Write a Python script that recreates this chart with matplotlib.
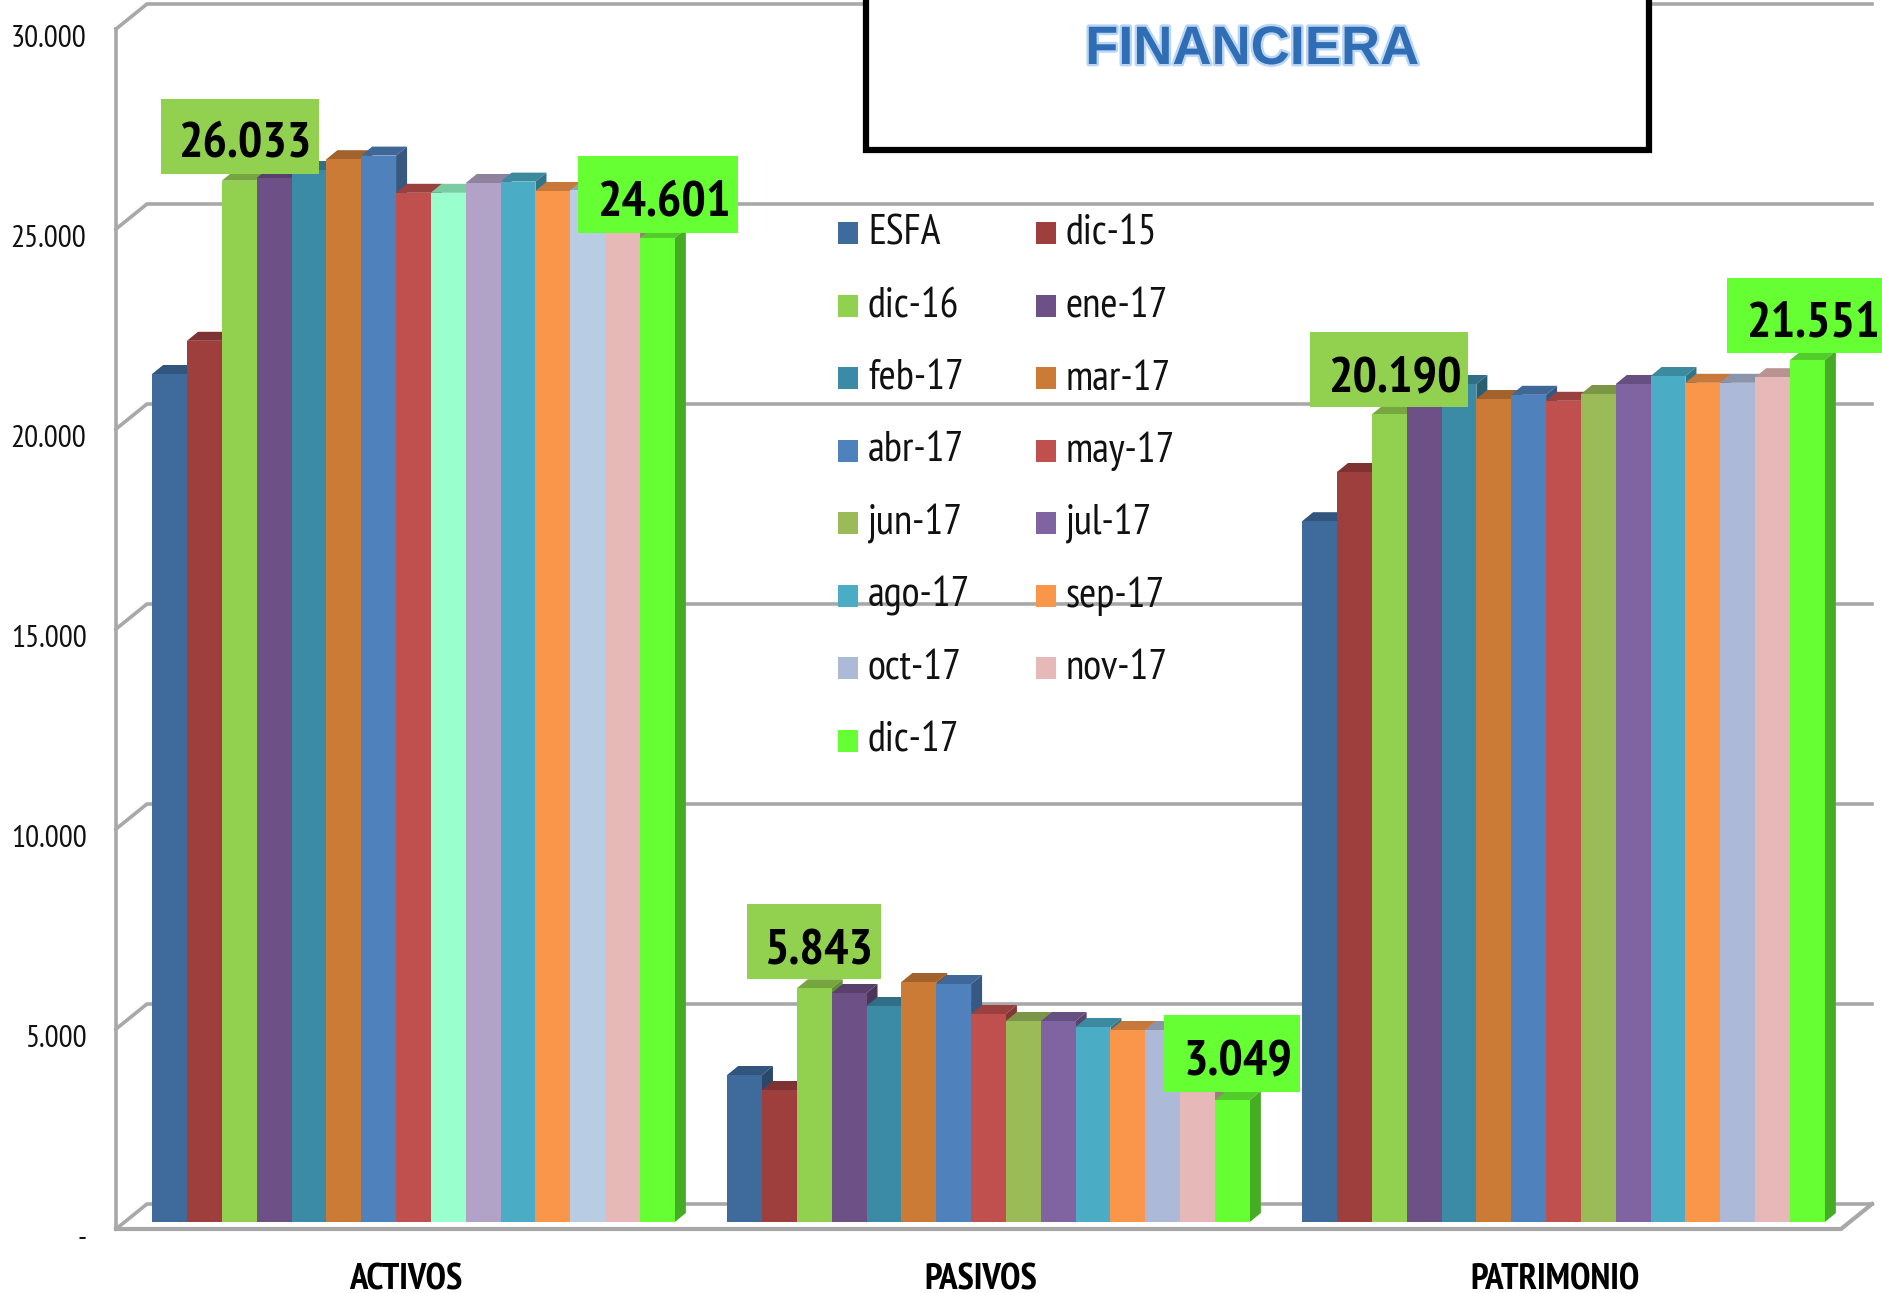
import matplotlib
matplotlib.use("Agg")
import matplotlib.pyplot as plt
import matplotlib.patheffects as pe
from matplotlib.patches import Polygon, Rectangle

plt.rcParams['font.family'] = ['PT Sans Narrow', 'Roboto Condensed', 'Liberation Sans', 'DejaVu Sans']

categories = ["ACTIVOS", "PASIVOS", "PATRIMONIO"]
months = ["ESFA", "dic-15", "dic-16", "ene-17", "feb-17", "mar-17", "abr-17", "may-17",
          "jun-17", "jul-17", "ago-17", "sep-17", "oct-17", "nov-17", "dic-17"]
activos = [21200, 22030, 26033, 26100, 26300, 26570, 26660, 25730,
           25730, 25975, 26010, 25775, 25800, 25520, 24601]
pasivos = [3675, 3300, 5843, 5725, 5400, 6000, 5950, 5200,
           5025, 5025, 4875, 4800, 4800, 4400, 3049]
patrimonio = [17520, 18750, 20190, 20400, 20950, 20575, 20680, 20530,
              20700, 20950, 21150, 20980, 20980, 21120, 21551]
series = [activos, pasivos, patrimonio]
y_ticks = [0, 5000, 10000, 15000, 20000, 25000, 30000]
y_tick_labels = ["-", "5.000", "10.000", "15.000", "20.000", "25.000", "30.000"]

colors = ["#3F6A9C", "#9E3F3E", "#92D050", "#6D5086", "#3C8BA6", "#CB7B36", "#4F81BD", "#C0504D",
          "#9BBB59", "#8064A2", "#4BACC6", "#F9964A", "#ACB9D7", "#E6B8B7", "#66FF33"]
# the first group has three bars recoloured by hand
activos_colors = {8: "#99FFCC", 9: "#B3A2C7", 12: "#B8CCE4"}

W, H = 1883, 1293
BASE_Y = 1222        # pixel row of value 0 on the bars
PX_PER_VAL = 0.04
GROUP_PX = 575
FIRST_CENTER = 413.5
BAR_W = 34.85 / GROUP_PX
GREY = "#A8A8A8"


def px_x(p):
    return (p - FIRST_CENTER) / GROUP_PX


def px_y(p):
    return (BASE_Y - p) / PX_PER_VAL


def darker(col, f):
    r, g, b = matplotlib.colors.to_rgb(col)
    return (r * f, g * f, b * f)


fig = plt.figure(figsize=(W / 100, H / 100), dpi=100)
ax = fig.add_axes([0, 0, 1, 1])
ax.set_xlim(px_x(0), px_x(W))
ax.set_ylim(px_y(H), px_y(0))
ax.axis("off")

# walls and gridlines
back_dy = 18 / PX_PER_VAL
front_dy = -7 / PX_PER_VAL
lx, bx, rx, rbx = px_x(116), px_x(147), px_x(1841), px_x(1872)
for v in y_ticks:
    ax.plot([lx, bx, rbx], [v + front_dy, v + back_dy, v + back_dy], color=GREY, lw=2.6, zorder=1,
            solid_joinstyle="round")
ax.plot([lx, lx], [front_dy, y_ticks[-1] + front_dy], color=GREY, lw=2.6, zorder=1)
ax.plot([lx, rx, rbx], [front_dy, front_dy, back_dy], color=GREY, lw=3, zorder=1)

# bars, left to right so each one covers the side of the previous one
dx = 11 / GROUP_PX
dy = 9 / PX_PER_VAL
z = 2
for g, vals in enumerate(series):
    for i, v in enumerate(vals):
        col = colors[i]
        if g == 0 and i in activos_colors:
            col = activos_colors[i]
        x0 = g + (i - 7.5) * BAR_W
        x1 = x0 + BAR_W
        ax.add_patch(Polygon([(x0, v), (x1, v), (x1 + dx, v + dy), (x0 + dx, v + dy)],
                             facecolor=darker(col, 0.8), edgecolor="none", zorder=z))
        ax.add_patch(Polygon([(x1, 0), (x1 + dx, dy), (x1 + dx, v + dy), (x1, v)],
                             facecolor=darker(col, 0.68), edgecolor="none", zorder=z))
        ax.bar(x0, v, width=BAR_W, align="edge", color=col, zorder=z + 0.5)
        z += 1

# y axis labels
for v, lab in zip(y_ticks, y_tick_labels):
    ax.text(px_x(86.5), v - 17 / PX_PER_VAL, lab, ha="right", va="center", fontsize=22.5, color="#111111", zorder=60)

# category labels
for g, cat in enumerate(categories):
    ax.text(g - 8 / GROUP_PX, px_y(1280), cat, ha="center", va="center", fontsize=26.5,
            fontweight="bold", color="black", zorder=60)

# value boxes
box_groups = [0, 0, 1, 1, 2, 2]
box_months = [2, 14, 2, 14, 2, 14]
box_rects = [(161, 319, 99, 174), (578, 738, 156, 233), (747, 881, 904, 979),
             (1164, 1300, 1015, 1092), (1310, 1468, 332, 407), (1727, 1883, 278, 353)]
box_text = [(245, 144), (664, 203), (819, 952), (1238, 1063), (1395, 379), (1813, 324)]
for g, m, r, t in zip(box_groups, box_months, box_rects, box_text):
    ax.add_patch(Rectangle((px_x(r[0]), px_y(r[3])), px_x(r[1]) - px_x(r[0]), px_y(r[2]) - px_y(r[3]),
                           facecolor=colors[m], edgecolor="none", zorder=70))
    lab = f"{series[g][m]:,}".replace(",", ".")
    ax.text(px_x(t[0]), px_y(t[1]), lab, ha="center", va="center", fontsize=37, fontweight="bold",
            color="black", zorder=71)

# legend, filled row by row in two columns
for i, m in enumerate(months):
    row, col = i // 2, i % 2
    sq_x = 838 + col * 198
    yc = 233 + row * 72.5
    ax.add_patch(Rectangle((px_x(sq_x), px_y(yc + 11)), 20 / GROUP_PX, 22 / PX_PER_VAL,
                           facecolor=colors[i], edgecolor="none", zorder=80))
    ax.text(px_x(sq_x + 30), px_y(yc + 1), m, ha="left", va="center", fontsize=30, color="#111111", zorder=80)

# title box, runs off the top of the picture
ax.add_patch(Rectangle((px_x(866), px_y(150)), px_x(1649) - px_x(866), px_y(-20) - px_y(150),
                       facecolor="white", edgecolor="black", lw=4.5, zorder=90))
ax.text(px_x(1252), px_y(50), "FINANCIERA", ha="center", va="center", fontsize=39, fontweight="bold",
        family="Liberation Sans", color="#2F6DB5", zorder=91,
        path_effects=[pe.withStroke(linewidth=3.5, foreground="#BBD6F5")])

fig.savefig("out.png", dpi=100)
